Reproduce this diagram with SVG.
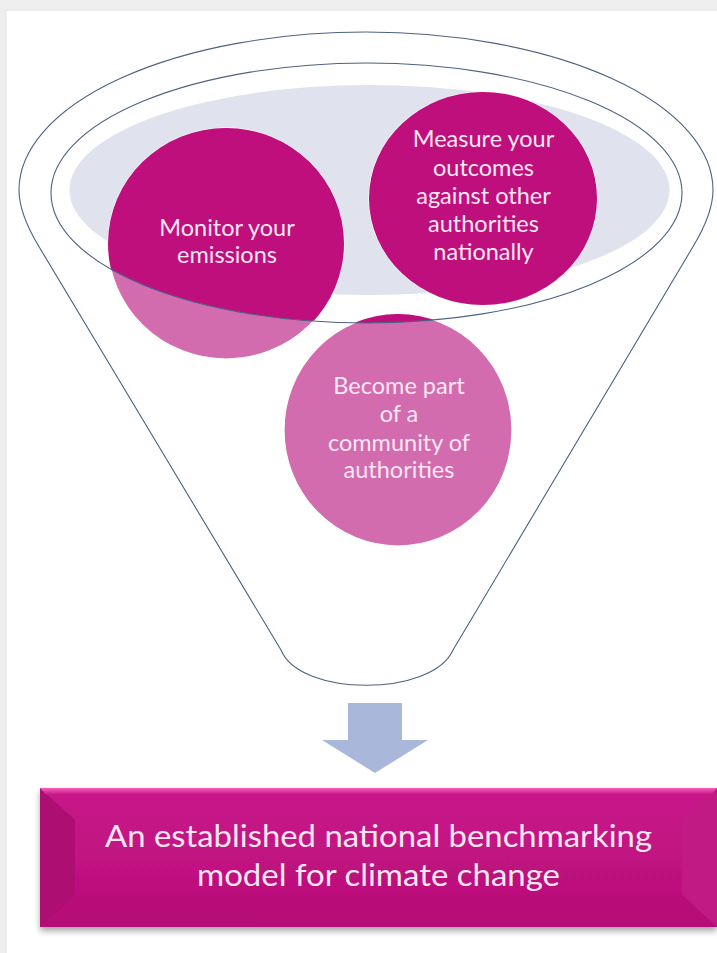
<svg xmlns="http://www.w3.org/2000/svg" width="717" height="953" viewBox="0 0 717 953">
<defs>
<style>
.ln{fill:none;stroke:#4d6283;stroke-width:1.1}
.ct{font-family:Lato,"Open Sans","Liberation Sans",sans-serif;font-size:23.5px;fill:#fbe6f4;text-anchor:middle}
.bt{font-family:Lato,"Open Sans","Liberation Sans",sans-serif;font-size:31px;fill:#fbe6f4;text-anchor:middle}
</style>
<clipPath id="inner"><ellipse cx="366.5" cy="193" rx="315.5" ry="130"/></clipPath>
<linearGradient id="topBev" x1="0" y1="0" x2="0" y2="1">
<stop offset="0" stop-color="#f45ec0"/><stop offset="1" stop-color="#c4137f"/>
</linearGradient>
<linearGradient id="face" x1="0" y1="0" x2="0" y2="1">
<stop offset="0" stop-color="#c8158a"/><stop offset="1" stop-color="#b90f78"/>
</linearGradient>
<filter id="sh" x="-5%" y="-10%" width="110%" height="130%">
<feDropShadow dx="0" dy="4" stdDeviation="3" flood-color="#000" flood-opacity="0.35"/>
</filter>
</defs>
<rect width="717" height="953" fill="#ffffff"/>
<rect x="0" y="0" width="717" height="10" fill="#efefef"/>
<rect x="0" y="0" width="6" height="953" fill="#efefef"/>
<line x1="6" y1="10" x2="717" y2="10" stroke="#e2e2e2" stroke-width="1"/>
<line x1="6" y1="10" x2="6" y2="953" stroke="#e2e2e2" stroke-width="1"/>

<g id="funnel">
<path class="ln" fill="#fff" d="M19,190 A347,158 0 0 1 713,190 Q713,213 694,245 L453,650 C432,697 300,697 281,650 L38,245 Q19,213 19,190 Z"/>
<ellipse cx="369.5" cy="190" rx="300" ry="105" fill="#e0e3ed"/>
</g>

<g id="monitor">
<ellipse cx="226" cy="243.5" rx="118" ry="115.5" fill="#d36cae" stroke="#fff" stroke-width="1.2"/>
<ellipse cx="226" cy="243.5" rx="118" ry="115.5" fill="#bf0f7c" clip-path="url(#inner)"/>
<text class="ct" x="227" y="236">Monitor your</text>
<text class="ct" x="227" y="263">emissions</text>
</g>

<g id="measure">
<ellipse cx="483" cy="198.5" rx="114" ry="106.5" fill="#d36cae" stroke="#fff" stroke-width="1.2"/>
<ellipse cx="483" cy="198.5" rx="114" ry="106.5" fill="#bf0f7c" clip-path="url(#inner)"/>
<text class="ct" x="483.5" y="147">Measure your</text>
<text class="ct" x="483.5" y="176">outcomes</text>
<text class="ct" x="483.5" y="204">against other</text>
<text class="ct" x="483.5" y="232">authorities</text>
<text class="ct" x="483.5" y="260">nationally</text>
</g>

<g id="become">
<ellipse cx="398" cy="430" rx="114" ry="116" fill="#d36cae" stroke="#fff" stroke-width="1.2"/>
<ellipse cx="398" cy="430" rx="114" ry="116" fill="#bf0f7c" clip-path="url(#inner)"/>
<text class="ct" x="399" y="394">Become part</text>
<text class="ct" x="399" y="422">of a</text>
<text class="ct" x="399" y="451">community of</text>
<text class="ct" x="399" y="478">authorities</text>
</g>

<g id="connectors">
<ellipse class="ln" cx="366.5" cy="193" rx="315.5" ry="130"/>
<polygon points="348,703 402,703 402,740 428,740 375,773 322,740 348,740" fill="#a9b7da"/>
</g>

<g id="result">
<rect x="40" y="788" width="677" height="139" fill="url(#face)" filter="url(#sh)"/>
<polygon points="40,788 75,820 75,895 40,927" fill="#ad0e71"/>
<polygon points="717,788 682,820 682,895 717,927" fill="#c21a84"/>
<polygon points="40,927 75,895 682,895 717,927" fill="#b10d73" opacity="0.5"/>
<polygon points="40,788 717,788 711,795 46,795" fill="url(#topBev)"/>
<text class="bt" x="378.5" y="847" textLength="547" lengthAdjust="spacingAndGlyphs">An established national benchmarking</text>
<text class="bt" x="378.5" y="886" textLength="363" lengthAdjust="spacingAndGlyphs">model for climate change</text>
</g>
</svg>
